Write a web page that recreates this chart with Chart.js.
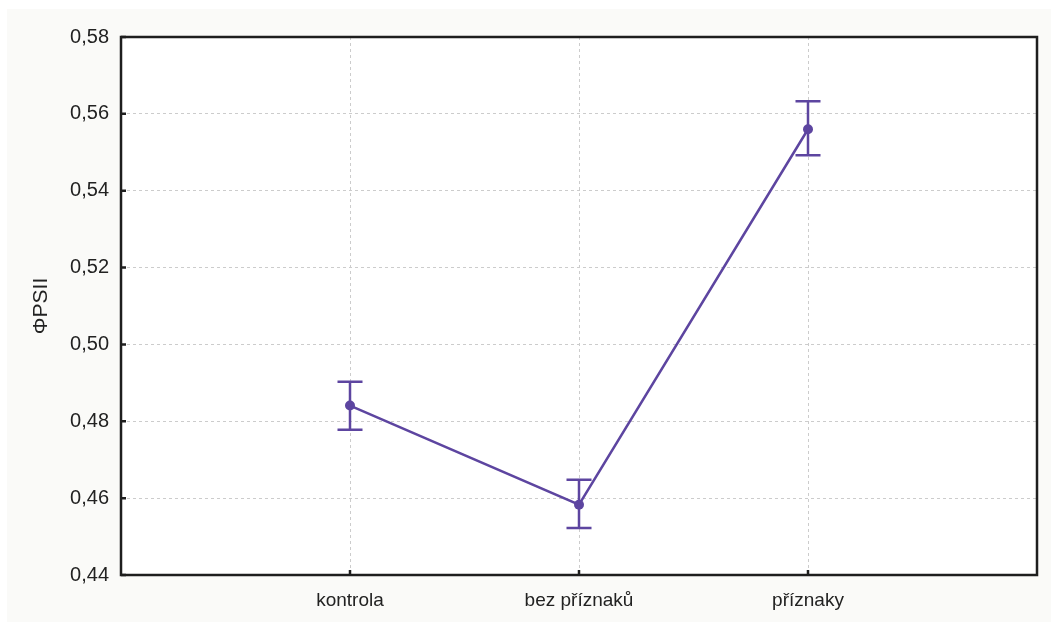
<!DOCTYPE html>
<html><head><meta charset="utf-8">
<script src="https://cdn.jsdelivr.net/npm/chart.js@4"></script>
<style>html,body{margin:0;padding:0;background:#fff}#wrap{width:1053px;height:627px;position:relative}</style>
</head><body><div id="wrap"><canvas id="c"></canvas></div>
<script>
const categories = ['kontrola', 'bez příznaků', 'příznaky'];
const means = [0.4841, 0.4583, 0.5560];
const upper = [0.4903, 0.4648, 0.5633];
const lower = [0.4778, 0.4522, 0.5492];
const yTicks = [0.44, 0.46, 0.48, 0.50, 0.52, 0.54, 0.56, 0.58];
const yTitle = 'ΦPSII';

const PURPLE = '#5d45a0';

const bgPlugin = {
  id: 'bg',
  beforeDraw(chart) {
    const {ctx, chartArea: a} = chart;
    ctx.save();
    ctx.fillStyle = '#ffffff';
    ctx.fillRect(0, 0, chart.width, chart.height);
    ctx.fillStyle = '#fafaf8';
    ctx.fillRect(7, 9, 1044, 613);
    ctx.fillStyle = '#ffffff';
    ctx.fillRect(a.left, a.top, a.right - a.left, a.bottom - a.top);
    ctx.restore();
  },
  beforeDatasetsDraw(chart) {
    const {ctx, chartArea: a, scales} = chart;
    ctx.save();
    ctx.strokeStyle = '#1e1e1e';
    ctx.lineWidth = 2.5;
    ctx.strokeRect(a.left, a.top, a.right - a.left, a.bottom - a.top);
    ctx.beginPath();
    yTicks.forEach(v => {
      const y = scales.y.getPixelForValue(v);
      ctx.moveTo(a.left, y); ctx.lineTo(a.left + 5, y);
    });
    categories.forEach((c, i) => {
      const x = scales.x.getPixelForValue(i + 1);
      ctx.moveTo(x, a.bottom); ctx.lineTo(x, a.bottom - 5);
    });
    ctx.stroke();
    ctx.restore();
  },
  afterDatasetsDraw(chart) {
    const {ctx, scales} = chart;
    ctx.save();
    ctx.strokeStyle = PURPLE;
    ctx.lineWidth = 2.5;
    ctx.beginPath();
    categories.forEach((c, i) => {
      const x = scales.x.getPixelForValue(i + 1);
      const yu = scales.y.getPixelForValue(upper[i]);
      const yl = scales.y.getPixelForValue(lower[i]);
      ctx.moveTo(x, yu); ctx.lineTo(x, yl);
      ctx.moveTo(x - 12.5, yu); ctx.lineTo(x + 12.5, yu);
      ctx.moveTo(x - 12.5, yl); ctx.lineTo(x + 12.5, yl);
    });
    ctx.stroke();
    ctx.restore();
  }
};

new Chart(document.getElementById('c'), {
  type: 'scatter',
  data: {
    datasets: [{
      data: means.map((m, i) => ({x: i + 1, y: m})),
      showLine: true,
      borderColor: PURPLE,
      backgroundColor: PURPLE,
      borderWidth: 2.5,
      pointRadius: 5,
      pointBackgroundColor: PURPLE,
      pointBorderColor: PURPLE,
      pointBorderWidth: 0
    }]
  },
  options: {
    responsive: true,
    maintainAspectRatio: false,
    animation: false,
    devicePixelRatio: 1,
    layout: {padding: {left: 0, top: 37, right: 16, bottom: 0}},
    plugins: {legend: {display: false}, tooltip: {enabled: false}},
    scales: {
      x: {
        type: 'linear', min: 0, max: 4,
        afterBuildTicks(s) { s.ticks = categories.map((c, i) => ({value: i + 1})); },
        afterFit(s) { s.height = 52; },
        ticks: {
          callback: v => categories[v - 1] || '',
          font: {family: 'Liberation Sans, Arial, sans-serif', size: 19},
          color: '#222', padding: 14, maxRotation: 0, autoSkip: false
        },
        grid: {color: '#cccccc', lineWidth: 1, drawTicks: false},
        border: {display: false, dash: [3, 3]}
      },
      y: {
        type: 'linear', min: 0.44, max: 0.58,
        afterBuildTicks(s) { s.ticks = yTicks.map(v => ({value: v})); },
        afterFit(s) { s.width = 121; },
        ticks: {
          callback: v => v.toFixed(2).replace('.', ','),
          font: {family: 'Liberation Sans, Arial, sans-serif', size: 20},
          color: '#222', padding: 12
        },
        grid: {color: '#cccccc', lineWidth: 1, drawTicks: false},
        border: {display: false, dash: [3, 3]},
        title: {
          display: true, text: yTitle,
          font: {family: 'Liberation Sans, Arial, sans-serif', size: 21},
          color: '#222', padding: {top: 29, bottom: 0}
        }
      }
    }
  },
  plugins: [bgPlugin]
});
</script>
</body></html>
